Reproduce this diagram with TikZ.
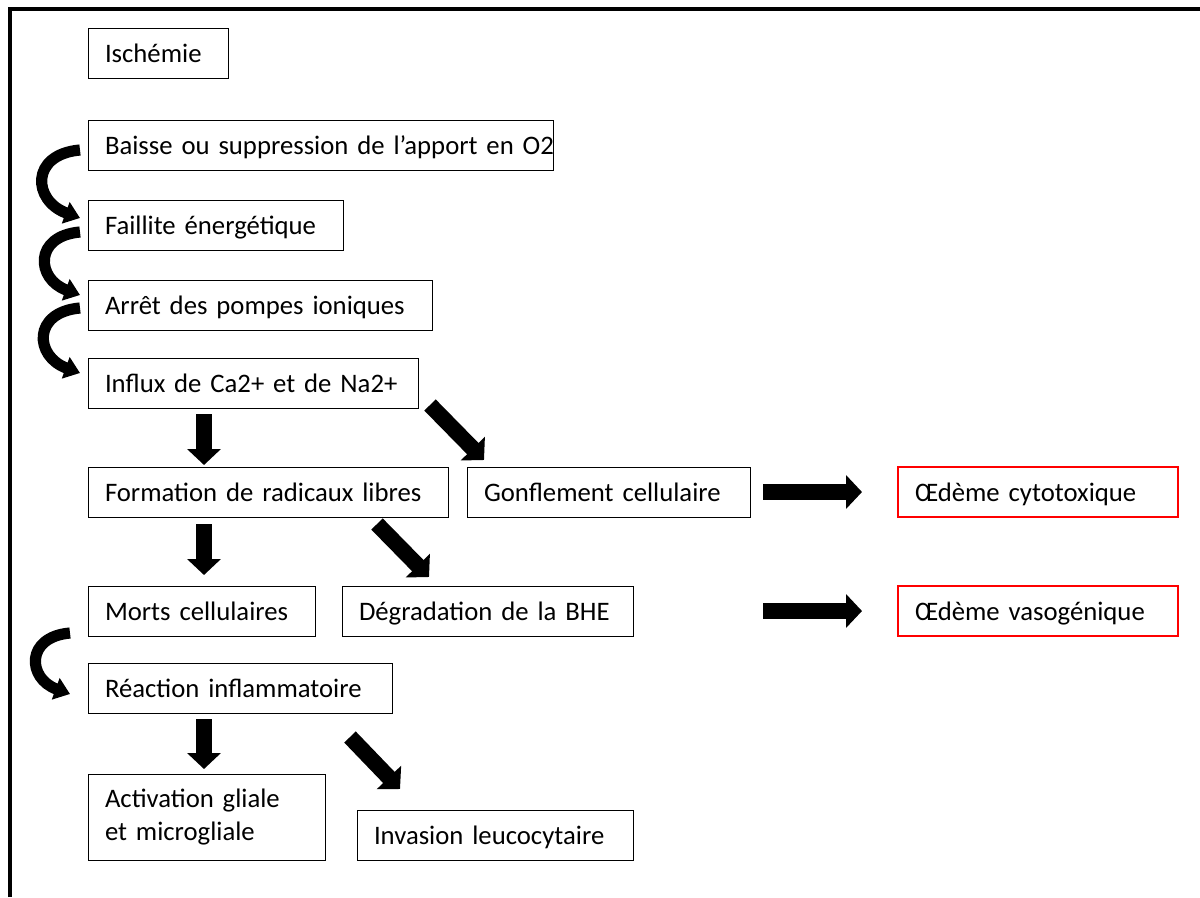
\documentclass[tikz,border=0pt]{standalone}
\usepackage{fontspec}
\setmainfont{Carlito}
\usepackage{tikz}
\usetikzlibrary{positioning}
\usetikzlibrary{arrows.meta}

\tikzset{
  cadre/.style={draw, line width=0.7pt, anchor=north west, inner xsep=0.425cm,
    inner ysep=0pt, outer sep=0pt, align=left, minimum height=1.25cm, text width=#1},
  etape/.style={cadre=#1, text height=16pt, text depth=2pt,
    execute at begin node=\hbox\bgroup, execute at end node=\egroup},
  oedeme/.style={etape=#1, draw=red, line width=1.2pt},
  bloc/.style={line width=0.4cm, -{Triangle[length=0.4cm, width=0.825cm]}},
  courbe/.style={line width=0.28cm, -{Triangle[length=0.38cm, width=0.55cm]}}
}

\begin{document}
\begin{tikzpicture}[font=\fontsize{19}{23.5}\selectfont]
   \useasboundingbox (0,0) rectangle (30,-22.425);
   % cadre
   \draw[line width=0.1cm] (0.25,-22.425) -- (0.25,-0.225) -- (30,-0.225);

   \node (isch)   [etape=2.65cm] at (2.2,-0.7) {Ischémie};
   \node (O2)     [etape=10.775cm, below=1.05cm of isch.south west, anchor=north west] {Baisse ou suppression de l’apport en O2};
   \node (fail)   [etape=5.525cm, below=0.75cm of O2.south west, anchor=north west] {Faillite énergétique};
   \node (pomp)   [etape=7.75cm, below=0.75cm of fail.south west, anchor=north west] {Arrêt des pompes ioniques};
   \node (influx) [etape=7.4cm, below=0.7cm of pomp.south west, anchor=north west] {Influx de Ca2+ et de Na2+};
   \node (rad)    [etape=8.15cm, below=1.475cm of influx.south west, anchor=north west] {Formation de radicaux libres};
   \node (gonfl)  [etape=6.225cm, right=0.475cm of rad.north east, anchor=north west] {Gonflement cellulaire};
   \node (cyto)   [oedeme=6.15cm, right=3.7cm of gonfl.north east, anchor=north west] {Œdème cytotoxique};
   \node (morts)  [etape=4.825cm, below=1.725cm of rad.south west, anchor=north west] {Morts cellulaires};
   \node (bhe)    [etape=6.425cm, right=0.675cm of morts.north east, anchor=north west] {Dégradation de la BHE};
   \node (vaso)   [oedeme=6.15cm, below=1.725cm of cyto.south west, anchor=north west] {Œdème vasogénique};
   \node (infl)   [etape=6.75cm, below=0.675cm of morts.south west, anchor=north west] {Réaction inflammatoire};
   \node (glia)   [cadre=5.075cm, minimum height=2.15cm, below=1.525cm of infl.south west, anchor=north west] {Activation gliale\\et microgliale};
   \node (leuco)  [etape=6.05cm, right=0.8cm of glia.south east, anchor=south west] {Invasion leucocytaire};

   % fleches courbes
   \draw[courbe] ([xshift=-0.2cm,yshift=-0.125cm]O2.west) to[out=185,in=160,looseness=1.9] ([xshift=-0.2cm,yshift=0.175cm]fail.west);
   \draw[courbe] ([xshift=-0.2cm,yshift=-0.175cm]fail.west) to[out=185,in=160,looseness=1.9] ([xshift=-0.2cm,yshift=0.25cm]pomp.west);
   \draw[courbe] ([xshift=-0.2cm,yshift=-0.075cm]pomp.west) to[out=185,in=160,looseness=1.9] ([xshift=-0.2cm,yshift=0.25cm]influx.west);
   \draw[courbe] ([xshift=-0.45cm,yshift=-0.55cm]morts.west) to[out=185,in=160,looseness=1.9] ([xshift=-0.45cm,yshift=-0.15cm]infl.west);

   % fleches droites
   \draw[bloc] ([xshift=2.9cm,yshift=-0.15cm]influx.south west) -- ([xshift=2.9cm,yshift=0.05cm]rad.north west);
   \draw[bloc] ([xshift=0.3cm,yshift=0.075cm]influx.south east) -- ([xshift=0.425cm,yshift=0.175cm]gonfl.north west);
   \draw[bloc] ([xshift=2.9cm,yshift=-0.175cm]rad.south west) -- ([xshift=2.9cm,yshift=0.275cm]morts.north west);
   \draw[bloc] ([xshift=-1.775cm,yshift=-0.175cm]rad.south east) -- ([xshift=2.175cm,yshift=0.225cm]bhe.north west);
   \draw[bloc] ([xshift=2.9cm,yshift=-0.15cm]infl.south west) -- ([xshift=2.9cm,yshift=0.125cm]glia.north west);
   \draw[bloc] ([xshift=-1.05cm,yshift=-0.6cm]infl.south east) -- ([xshift=1.075cm,yshift=0.525cm]leuco.north west);
   \draw[bloc] ([xshift=0.325cm]gonfl.east) -- ([xshift=-0.9cm]cyto.west);
   \draw[bloc] ([xshift=3.25cm]bhe.east) -- ([xshift=-0.9cm]vaso.west);
\end{tikzpicture}
\end{document}
